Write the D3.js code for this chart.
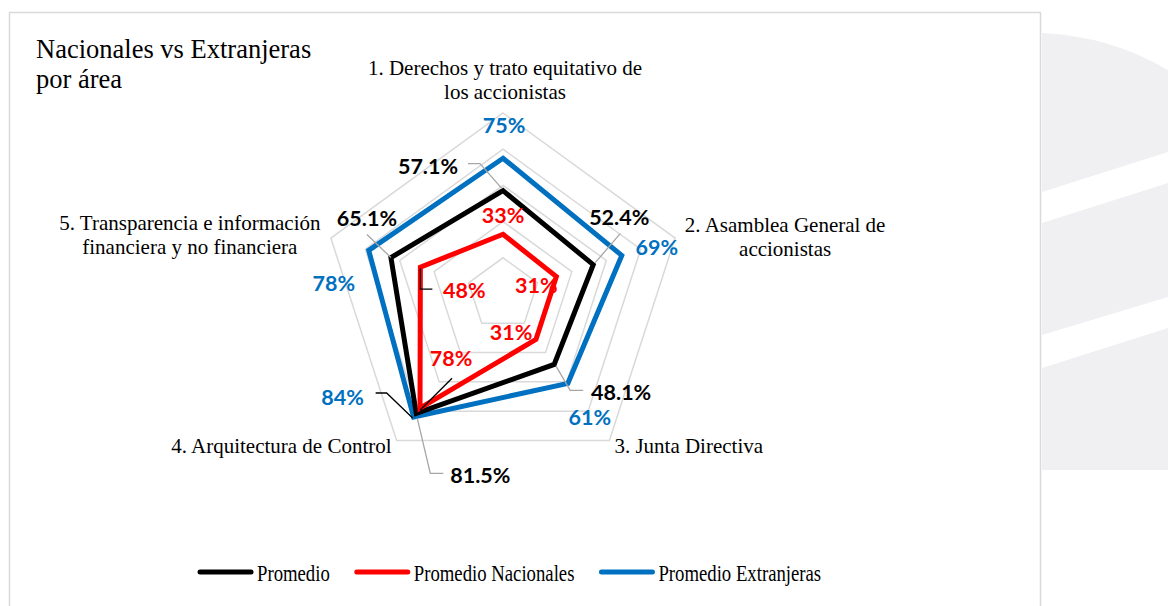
<!DOCTYPE html>
<html>
<head>
<meta charset="utf-8">
<script src="https://cdn.jsdelivr.net/npm/d3@7"></script>
<style>
  html, body { margin: 0; padding: 0; background: #ffffff; }
  svg { display: block; }
</style>
</head>
<body>
<div id="chart"></div>
<script>
// data
const categories = [
    ['1. Derechos y trato equitativo de', 'los accionistas'],
    ['2. Asamblea General de', 'accionistas'],
    ['3. Junta Directiva'],
    ['4. Arquitectura de Control'],
    ['5. Transparencia e información', 'financiera y no financiera']
];
const promedio = [0.571, 0.524, 0.481, 0.815, 0.651];
const nacionales = [0.33, 0.31, 0.31, 0.78, 0.48];
const extranjeras = [0.75, 0.69, 0.61, 0.84, 0.78];
const gridTicks = [0.2, 0.4, 0.6, 0.8, 1.0];
const seriesNames = ['Promedio', 'Promedio Nacionales', 'Promedio Extranjeras'];

const width = 1168;
const height = 606;
const cx = 503, cy = 294;
const radius = 181;

const colours = { prom: '#000000', nac: '#ff0000', ext: '#0070c0' };

const rScale = d3.scaleLinear().domain([0, 1]).range([0, radius]);
const aScale = d3.scaleLinear().domain([0, categories.length]).range([-Math.PI / 2, 1.5 * Math.PI]);

function pt(i, v) {
    const a = aScale(i);
    return [cx + rScale(v) * Math.cos(a), cy + rScale(v) * Math.sin(a)];
}

// series with label placement (offset of label from its point) and leader lines
const series = [
    { key: 'ext', values: extranjeras, fmt: d3.format('.0%'),
      offsets: [[1, -33], [35, -8], [22, 34], [-71, -20], [-35, 33]],
      leaders: [null, null, null, [[-1, 1], [-27, -24], [-38, -24]], null],
      leaderColour: '#000' },
    { key: 'prom', values: promedio, fmt: d3.format('.1%'),
      offsets: [[-75, -25], [26, -48], [67, 28], [64, 62], [-24, -40]],
      leaders: [[[-1, -2], [-23, -27], [-35, -27]], [[2, -2], [27, -31]], [[2, 2], [16, 26], [29, 26]],
                [[1, 5], [14, 60], [27, 60]], [[0, 0], [-24, -23]]],
      leaderColour: '#a6a6a6' },
    { key: 'nac', values: nacionales, fmt: d3.format('.0%'),
      offsets: [[0, -19], [-20, 8], [-25, -7], [31, -50], [44, 23]],
      leaders: [null, null, null, [[0, 2], [32, -30]], [[0, 1], [0, 22], [12, 22]]],
      leaderColour: '#000' }
];

const svg = d3.select('#chart')
    .append('svg')
        .attr('width', width)
        .attr('height', height);

// background shapes on the right
svg.append('path')
    .attr('d', 'M1042,33 Q1110,36 1168,70 L1168,470 L1042,470 Z')
    .attr('fill', '#f0f0f3');
svg.append('path')
    .attr('d', 'M1042,192 L1168,152 L1168,183 L1042,223 Z')
    .attr('fill', '#ffffff');
svg.append('path')
    .attr('d', 'M1042,335 L1168,297 L1168,328 L1042,368 Z')
    .attr('fill', '#ffffff');

// card
svg.append('rect')
    .attr('x', 9.5).attr('y', 12.5)
    .attr('width', 1031).attr('height', 620)
    .attr('fill', '#ffffff')
    .attr('stroke', '#d9d9d9')
    .attr('stroke-width', 1.5);

// title
svg.append('text')
    .attr('x', 36).attr('y', 58)
    .style('font-family', '"Liberation Serif", "Times New Roman", serif')
    .style('font-size', '26.5px')
    .attr('fill', '#000')
    .selectAll('tspan')
    .data(['Nacionales vs Extranjeras', 'por área'])
    .enter()
        .append('tspan')
            .attr('x', 36)
            .attr('dy', (d, i) => i === 0 ? 0 : 30)
            .text(d => d);

// grid pentagons
const idx = d3.range(categories.length);
svg.append('g')
    .selectAll('polygon')
    .data(gridTicks)
    .enter()
        .append('polygon')
            .attr('points', t => idx.map(i => pt(i, t).join(',')).join(' '))
            .attr('fill', 'none')
            .attr('stroke', '#d9d9d9')
            .attr('stroke-width', 1.5);

// category labels
const catPlace = [
    { dx: 2, dy: -38, anchor: 'middle' },
    { dx: 110, dy: -6, anchor: 'middle' },
    { dx: 5, dy: 13, anchor: 'start' },
    { dx: -5, dy: 13, anchor: 'end' },
    { dx: -141, dy: -8, anchor: 'middle' }
];
svg.append('g')
    .selectAll('text')
    .data(categories)
    .enter()
        .append('text')
            .attr('text-anchor', (d, i) => catPlace[i].anchor)
            .style('font-family', '"Liberation Serif", "Times New Roman", serif')
            .style('font-size', '21px')
            .attr('fill', '#000')
            .each(function (lines, i) {
                const p = pt(i, 1);
                const x = p[0] + catPlace[i].dx;
                const y = p[1] + catPlace[i].dy;
                d3.select(this).attr('y', y);
                d3.select(this).selectAll('tspan')
                    .data(lines)
                    .enter()
                        .append('tspan')
                            .attr('x', x)
                            .attr('dy', (d, j) => j === 0 ? 0 : 24)
                            .text(d => d);
            });

// series lines
const line = d3.line().curve(d3.curveLinearClosed);
svg.append('g')
    .selectAll('path')
    .data(series)
    .enter()
        .append('path')
            .attr('d', s => line(s.values.map((v, i) => pt(i, v))))
            .attr('fill', 'none')
            .attr('stroke', s => colours[s.key])
            .attr('stroke-width', 5)
            .attr('stroke-linejoin', 'miter');

// leader lines
const leaderG = svg.append('g');
series.forEach(s => {
    s.leaders.forEach((l, i) => {
        if (!l) return;
        const p = pt(i, s.values[i]);
        leaderG.append('path')
            .attr('d', d3.line()(l.map(o => [p[0] + o[0], p[1] + o[1]])))
            .attr('fill', 'none')
            .attr('stroke', s.leaderColour)
            .attr('stroke-width', 1.3);
    });
});

// data labels
const labelG = svg.append('g');
series.forEach(s => {
    labelG.append('g')
        .selectAll('text')
        .data(s.values)
        .enter()
            .append('text')
                .attr('x', (v, i) => pt(i, v)[0] + s.offsets[i][0])
                .attr('y', (v, i) => pt(i, v)[1] + s.offsets[i][1])
                .attr('text-anchor', 'middle')
                .attr('dominant-baseline', 'central')
                .style('font-family', 'Lato, "Open Sans", sans-serif')
                .style('font-weight', 'bold')
                .style('font-size', '21.5px')
                .attr('fill', colours[s.key])
                .text(v => s.fmt(v));
});

// legend
const legend = svg.append('g');
let lx = 198;
const ly = 572;
['prom', 'nac', 'ext'].forEach((k, i) => {
    legend.append('line')
        .attr('x1', lx + 2).attr('x2', lx + 53)
        .attr('y1', ly).attr('y2', ly)
        .attr('stroke', colours[k])
        .attr('stroke-width', 5)
        .attr('stroke-linecap', 'round');
    const t = legend.append('text')
        .attr('x', lx + 59)
        .attr('y', ly + 9)
        .style('font-family', '"Liberation Serif", "Times New Roman", serif')
        .style('font-size', '24px')
        .attr('fill', '#000')
        .text(seriesNames[i]);
    const w = t.node().getComputedTextLength() * 0.78;
    t.attr('textLength', w).attr('lengthAdjust', 'spacingAndGlyphs');
    lx += 59 + w + 25;
});
</script>
</body>
</html>
